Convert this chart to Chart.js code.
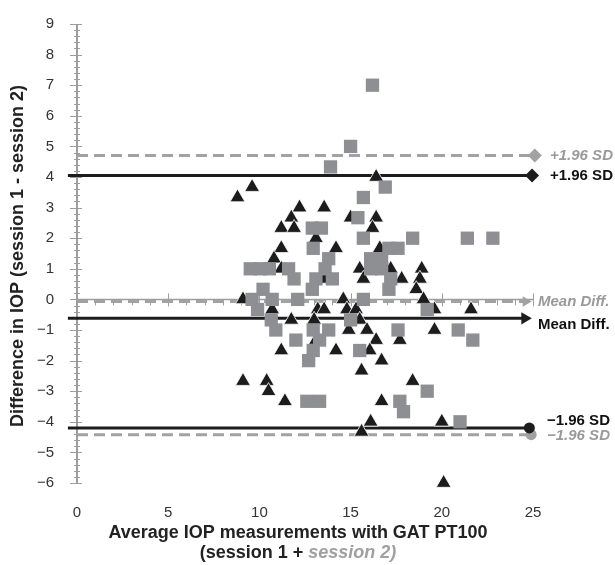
<!DOCTYPE html>
<html lang="en">

<head>
    <meta charset="UTF-8">
    <title>Bland-Altman IOP</title>
    <script src="https://cdn.jsdelivr.net/npm/chart.js"></script>
    <style>
        body { margin: 0; background: #fff; }
        #wrap { width: 615px; height: 565px; }
    </style>
</head>

<body>
    <div id="wrap"><canvas id="baChart"></canvas></div>

    <script>
        // session 1 (black triangles): [average, difference]
        const session1 = [
            [8.8, 3.33], [9.6, 3.67], [12.2, 3.0], [13.55, 3.0], [11.75, 2.67], [15.0, 2.67],
            [11.2, 2.33], [11.9, 2.33], [16.4, 4.0], [16.4, 2.67], [16.2, 2.33], [13.1, 2.0],
            [11.2, 1.67], [14.2, 1.67], [16.6, 1.67], [10.8, 1.33], [11.2, 1.0], [15.5, 1.0],
            [17.2, 1.0], [18.9, 1.0], [13.55, 0.67], [15.7, 0.67], [17.8, 0.67], [18.8, 0.67],
            [18.6, 0.33], [9.1, 0], [14.6, 0], [19.0, 0], [10.7, -0.33], [13.2, -0.33],
            [13.55, -0.33], [14.8, -0.33], [15.3, -0.33], [19.6, -0.33], [21.6, -0.33],
            [11.75, -0.67], [13.0, -0.67], [15.5, -0.67], [14.9, -1.0], [15.9, -1.0], [19.6, -1.0],
            [13.1, -1.33], [16.4, -1.33], [17.7, -1.33], [11.2, -1.67], [14.2, -1.67], [16.05, -1.67],
            [16.7, -2.0], [15.6, -2.33], [9.1, -2.67], [10.4, -2.67], [18.4, -2.67], [10.5, -3.0],
            [11.4, -3.33], [16.7, -3.33], [16.1, -4.0], [20.0, -4.0], [15.6, -4.33], [20.1, -6.0]
        ];

        // session 2 (grey squares)
        const session2 = [
            [16.2, 7.0], [15.0, 5.0], [13.9, 4.33], [16.9, 3.67], [15.7, 3.33], [15.4, 2.67],
            [12.9, 2.33], [13.4, 2.33], [15.7, 2.0], [18.4, 2.0], [21.4, 2.0], [22.8, 2.0],
            [12.95, 1.67], [17.1, 1.67], [17.6, 1.67], [13.8, 1.33], [16.1, 1.33], [16.7, 1.33],
            [16.1, 1.0], [16.7, 1.0], [9.5, 1.0], [10.05, 1.0], [10.55, 1.0], [11.6, 1.0], [13.6, 1.0],
            [11.9, 0.67], [13.1, 0.67], [14.0, 0.67], [17.2, 0.67], [12.9, 0.33], [10.2, 0.33],
            [17.1, 0.33], [9.6, 0], [10.7, 0], [12.1, 0], [15.7, 0], [9.9, -0.33], [19.2, -0.33],
            [10.65, -0.67], [15.0, -0.67], [10.9, -1.0], [12.95, -1.0], [13.8, -1.0], [17.6, -1.0],
            [20.9, -1.0], [12.0, -1.33], [13.3, -1.33], [21.7, -1.33], [12.95, -1.67], [15.5, -1.67],
            [12.7, -2.0], [19.2, -3.0], [12.6, -3.33], [13.3, -3.33], [17.7, -3.33], [17.9, -3.67],
            [21.0, -4.0]
        ];

        // limits of agreement and mean differences
        const upperSD1 = 4.05, upperSD2 = 4.7;
        const meanDiff1 = -0.62, meanDiff2 = -0.07;
        const lowerSD1 = -4.2, lowerSD2 = -4.42;

        const xTicks = [0, 5, 10, 15, 20, 25];
        const yMin = -6, yMax = 9;

        const FONT = "'Liberation Sans', Arial, sans-serif";
        const BLACK = '#1c1c1c';
        const GREY = '#8e8f92';
        const GREY_LINE = '#a2a2a2';

        const toXY = arr => arr.map(p => ({ x: p[0], y: p[1] }));

        function refLine(y, color, dashed, marker, rot, endX, radius, startX) {
            return {
                type: 'line',
                data: [{ x: startX, y: y }, { x: endX, y: y }],
                borderColor: color,
                backgroundColor: color,
                borderWidth: 3,
                borderDash: dashed ? [11, 6] : [],
                pointRadius: [0, radius],
                pointStyle: marker,
                pointRotation: rot,
                pointBorderWidth: 0,
                clip: false,
                order: 3
            };
        }

        // axis lines / tick marks that sit inside the plot
        const axisDecor = {
            id: 'axisDecor',
            beforeDatasetsDraw(chart) {
                const { ctx, scales: { x, y } } = chart;
                const ax = x.getPixelForValue(0);
                const ay = y.getPixelForValue(0);
                ctx.save();
                ctx.strokeStyle = '#9d9d9d';
                // y axis
                ctx.lineWidth = 2;
                ctx.beginPath();
                ctx.moveTo(ax, y.getPixelForValue(yMax));
                ctx.lineTo(ax, y.getPixelForValue(yMin));
                ctx.stroke();
                ctx.lineWidth = 1;
                for (let i = 0; i <= (yMax - yMin) * 5; i++) {
                    const py = Math.round(y.getPixelForValue(yMin + i * 0.2)) + 0.5;
                    const len = i % 5 === 0 ? 7 : 3;
                    ctx.beginPath();
                    ctx.moveTo(ax - len, py);
                    ctx.lineTo(ax + len - (i % 5 === 0 ? 2 : 0), py);
                    ctx.stroke();
                }
                // x axis at zero
                ctx.lineWidth = 1.5;
                ctx.beginPath();
                ctx.moveTo(ax, ay);
                ctx.lineTo(x.getPixelForValue(25), ay);
                ctx.stroke();
                ctx.lineWidth = 1;
                for (let i = 0; i <= 25; i++) {
                    const px = Math.round(x.getPixelForValue(i)) + 0.5;
                    ctx.beginPath();
                    if (i % 5 === 0) {
                        ctx.moveTo(px, ay - 6);
                        ctx.lineTo(px, ay + 7);
                    } else {
                        ctx.moveTo(px, ay);
                        ctx.lineTo(px, ay + 6);
                    }
                    ctx.stroke();
                }
                ctx.restore();
            },
            afterDraw(chart) {
                const { ctx, scales: { x, y } } = chart;
                ctx.save();
                ctx.textBaseline = 'middle';

                // right-hand labels
                const labels = [
                    ['+1.96 SD', upperSD2, 550, 0, true],
                    ['+1.96 SD', upperSD1, 550, 0, false],
                    ['Mean Diff.', meanDiff2, 538, 0, true],
                    ['Mean Diff.', meanDiff1, 538, 6, false],
                    ['\u22121.96 SD', lowerSD1, 547, -7, false],
                    ['\u22121.96 SD', lowerSD2, 547, 1, true]
                ];
                labels.forEach(([t, v, px, dy, grey]) => {
                    ctx.font = (grey ? 'italic ' : '') + 'bold 15px ' + FONT;
                    ctx.fillStyle = grey ? '#9a9a9c' : '#111';
                    ctx.textAlign = 'left';
                    ctx.fillText(t, px, y.getPixelForValue(v) + dy);
                });

                // y title
                ctx.save();
                ctx.translate(18, 256);
                ctx.rotate(-Math.PI / 2);
                ctx.font = 'bold 18px ' + FONT;
                ctx.fillStyle = '#222';
                ctx.textAlign = 'center';
                ctx.fillText('Difference in IOP (session 1 - session 2)', 0, 0);
                ctx.restore();

                // x title, two lines, second one mixed
                const cx = 298;
                ctx.textAlign = 'center';
                ctx.font = 'bold 18px ' + FONT;
                ctx.fillStyle = '#222';
                ctx.fillText('Average IOP measurements with GAT PT100', cx, 533);
                const partA = '(session 1 + ';
                const partB = 'session 2)';
                ctx.font = 'bold 18px ' + FONT;
                const wA = ctx.measureText(partA).width;
                ctx.font = 'italic bold 18px ' + FONT;
                const wB = ctx.measureText(partB).width;
                const start = cx - (wA + wB) / 2;
                ctx.textAlign = 'left';
                ctx.font = 'bold 18px ' + FONT;
                ctx.fillStyle = '#222';
                ctx.fillText(partA, start, 553);
                ctx.font = 'italic bold 18px ' + FONT;
                ctx.fillStyle = '#a0a0a2';
                ctx.fillText(partB, start + wA, 553);
                ctx.restore();
            }
        };

        const ctx = document.getElementById('baChart').getContext('2d');
        new Chart(ctx, {
            type: 'scatter',
            data: {
                datasets: [
                    {
                        label: 'Session 2',
                        data: toXY(session2),
                        pointStyle: 'rect',
                        pointRadius: 9.4,
                        backgroundColor: GREY,
                        borderColor: GREY,
                        borderWidth: 0,
                        clip: false,
                        order: 1
                    },
                    {
                        label: 'Session 1',
                        data: toXY(session1),
                        pointStyle: 'triangle',
                        pointRadius: 8.6,
                        backgroundColor: BLACK,
                        borderColor: '#ffffff',
                        borderWidth: 0.8,
                        clip: false,
                        order: 2
                    },
                    refLine(upperSD2, GREY_LINE, true, 'rectRot', 0, 25.1, 7, 0),
                    refLine(upperSD1, BLACK, false, 'rectRot', 0, 24.95, 7, -0.5),
                    refLine(meanDiff2, GREY_LINE, true, 'triangle', 90, 24.6, 6, 0),
                    refLine(meanDiff1, BLACK, false, 'triangle', 90, 24.55, 7, -0.5),
                    refLine(lowerSD1, BLACK, false, 'circle', 0, 24.8, 5.5, -0.5),
                    refLine(lowerSD2, GREY_LINE, true, 'circle', 0, 24.9, 5.5, 0)
                ]
            },
            options: {
                responsive: true,
                maintainAspectRatio: false,
                animation: false,
                layout: {
                    padding: { top: 18, right: 82, left: 0, bottom: 0 }
                },
                scales: {
                    x: {
                        type: 'linear',
                        min: 0,
                        max: 25,
                        afterFit(scale) { scale.height = 82; },
                        afterBuildTicks(scale) { scale.ticks = xTicks.map(v => ({ value: v })); },
                        ticks: {
                            padding: 13,
                            color: '#333',
                            maxRotation: 0,
                            font: { family: FONT, size: 15 }
                        },
                        grid: { display: false },
                        border: { display: false }
                    },
                    y: {
                        min: yMin,
                        max: yMax,
                        afterFit(scale) { scale.width = 77; },
                        ticks: {
                            stepSize: 1,
                            padding: 15,
                            color: '#333',
                            font: { family: FONT, size: 15 },
                            callback: v => String(v).replace('-', '\u2212')
                        },
                        grid: { display: false },
                        border: { display: false }
                    }
                },
                plugins: {
                    legend: { display: false },
                    tooltip: { enabled: false }
                }
            },
            plugins: [axisDecor]
        });
    </script>
</body>

</html>
